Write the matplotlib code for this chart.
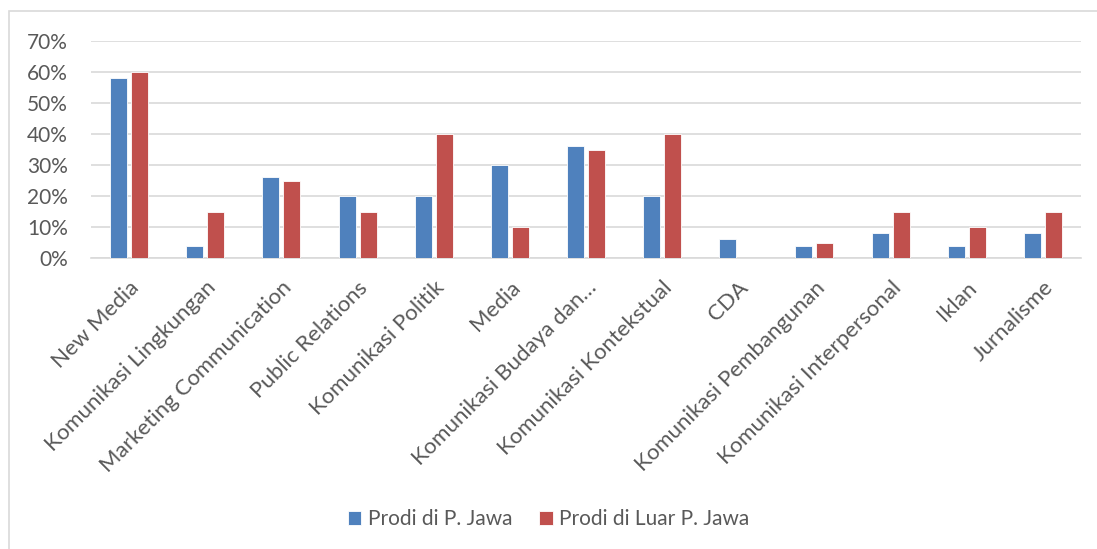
import matplotlib.pyplot as plt
import numpy as np
from matplotlib.patches import Rectangle
from matplotlib.ticker import FuncFormatter

plt.rcParams["font.family"] = ["Lato", "DejaVu Sans"]

categories = [
    "New Media", "Komunikasi Lingkungan", "Marketing Communication",
    "Public Relations", "Komunikasi Politik", "Media",
    "Komunikasi Budaya dan…", "Komunikasi Kontekstual", "CDA",
    "Komunikasi Pembangunan", "Komunikasi Interpersonal", "Iklan", "Jurnalisme",
]
jawa = [58, 4, 26, 20, 20, 30, 36, 20, 6, 4, 8, 4, 8]
luar_jawa = [60, 15, 25, 15, 40, 10, 35, 40, 0, 5, 15, 10, 15]
series_names = ["Prodi di P. Jawa", "Prodi di Luar P. Jawa"]
y_ticks = [0, 10, 20, 30, 40, 50, 60, 70]

BLUE = "#4F81BD"
RED = "#C0504D"
TEXT = "#595959"

W, H = 1097, 549
fig = plt.figure(figsize=(W / 100, H / 100), dpi=100)
ax = fig.add_axes([91 / W, 1 - 258 / H, (1081 - 91) / W, (258 - 41) / H])

# chart-area border (only left/top edges visible in the source)
fig.patches.append(Rectangle((9 / W, -0.1), 1.2, 1 - 11 / H + 0.1,
                             transform=fig.transFigure, fill=False,
                             edgecolor="#D9D9D9", lw=1.2))

x = np.arange(len(categories))
bw = 0.223
gap = 0.053
ax.bar(x - (bw + gap) / 2, jawa, bw, color=BLUE, edgecolor="white", lw=0.6,
       label=series_names[0], zorder=3)
ax.bar(x + (bw + gap) / 2, luar_jawa, bw, color=RED, edgecolor="white", lw=0.6,
       label=series_names[1], zorder=3)

ax.set_xlim(-0.5, len(categories) - 0.5)
ax.set_ylim(0, 70)
ax.set_yticks(y_ticks)
ax.yaxis.set_major_formatter(FuncFormatter(lambda v, _: f"{v:.0f}%"))
ax.grid(axis="y", color="#D9D9D9", lw=1.2, zorder=0)
for s in ["left", "right", "top"]:
    ax.spines[s].set_visible(False)
ax.spines["bottom"].set_color("#D9D9D9")
ax.spines["bottom"].set_linewidth(1.2)
ax.tick_params(axis="both", length=0, colors=TEXT, labelsize=15)
ax.tick_params(axis="y", pad=16.5)

ax.set_xticks(x)
ax.set_xticklabels(categories, rotation=45, ha="right", rotation_mode="anchor",
                   fontsize=16, color=TEXT)
ax.tick_params(axis="x", pad=14)

leg = fig.legend(loc="center", bbox_to_anchor=(0.5, 1 - 519 / H), ncol=2,
                 frameon=False, fontsize=15, handlelength=0.65, handleheight=0.65,
                 columnspacing=1.3, handletextpad=0.3)
for t in leg.get_texts():
    t.set_color(TEXT)

fig.savefig("out.png", dpi=100)
